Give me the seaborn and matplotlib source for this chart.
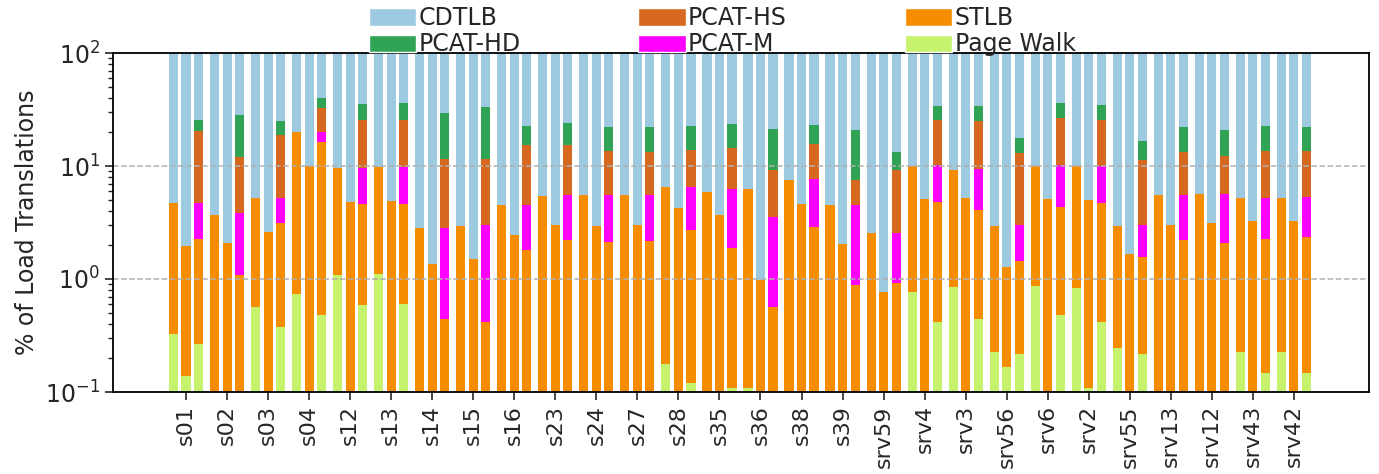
import numpy as np
import pandas as pd
import seaborn as sns
import matplotlib.pyplot as plt
from matplotlib.patches import Patch

workloads = ['s01', 's02', 's03', 's04', 's12', 's13', 's14', 's15', 's16', 's23',
             's24', 's27', 's28', 's35', 's36', 's38', 's39', 'srv59', 'srv4', 'srv3',
             'srv56', 'srv6', 'srv2', 'srv55', 'srv13', 'srv12', 'srv43', 'srv42']
configs = ['base', 'alt', 'pcat']
N = np.nan

# cumulative tops (% of load translations), CDTLB always fills up to 100
b1_stlb = [4.67, 3.72, 5.16, 19.9, 9.53, 9.8, 2.80, 2.97, 4.51, 5.42,
           5.53, 5.53, 6.51, 5.84, 6.21, 7.46, 4.48, 2.53, 10.1, 9.16,
           2.97, 10.1, 10.1, 2.97, 5.49, 5.61, 5.16, 5.16]
b1_pw = [0.327, N, 0.568, 0.741, 1.09, 1.11, N, N, N, N,
         N, N, 0.177, N, 0.109, N, N, N, 0.77, 0.855,
         0.226, 0.873, 0.838, 0.246, N, N, 0.226, 0.226]

b2_stlb = [1.94, 2.10, 2.58, 10.1, 4.76, 4.86, 1.37, 1.51, 2.47, 3.03,
           2.97, 3.03, 4.21, 3.72, 0.97, 4.57, 2.06, 0.77, 5.06, 5.16,
           1.29, 5.06, 4.96, 1.68, 3.03, 3.16, 3.23, 3.23]
b2_pw = [0.139, N, N, N, N, N, N, N, N, N,
         N, N, N, N, N, N, N, N, N, N,
         0.167, N, 0.109, N, N, N, N, N]

b3_hd = [25.4, 28.2, 24.9, 39.9, 35.3, 36.0, 29.3, 33.2, 22.5, 23.9,
         22.0, 22.0, 22.5, 23.4, 21.2, 22.9, 20.7, 13.2, 33.9, 33.9,
         17.6, 36.0, 34.5, 16.6, 22.0, 20.7, 22.5, 22.0]
b3_hs = [20.5, 12.0, 18.8, 32.5, 25.4, 25.4, 11.5, 11.5, 15.4, 15.4,
         13.6, 13.2, 13.8, 14.3, 9.16, 15.6, 7.46, 9.16, 25.4, 25.1,
         13.0, 26.5, 25.4, 11.2, 13.2, 12.2, 13.6, 13.6]
b3_m = [4.69, 3.83, 5.16, 19.9, 9.53, 9.8, 2.80, 3.03, 4.51, 5.53,
        5.53, 5.53, 6.51, 6.25, 3.57, 7.67, 4.51, 2.54, 10.3, 9.4,
        3.03, 10.3, 10.1, 2.99, 5.53, 5.61, 5.16, 5.31]
b3_stlb = [2.28, 1.09, 3.12, 16.2, 4.57, 4.57, 0.445, 0.418, 1.82, 2.23,
           2.14, 2.19, 2.69, 1.90, 0.56, 2.91, 0.89, 0.93, 4.76, 4.04,
           1.44, 4.30, 4.67, 1.55, 2.23, 2.10, 2.28, 2.33]
b3_pw = [0.267, N, 0.377, 0.482, 0.592, 0.604, N, N, N, N,
         N, N, 0.121, 0.109, N, N, N, N, 0.418, 0.445,
         0.217, 0.482, 0.418, 0.217, N, N, 0.148, 0.148]

layers = ['CDTLB', 'PCAT-HD', 'PCAT-HS', 'PCAT-M', 'STLB', 'Page Walk']
colors = {'CDTLB': '#9ecae1', 'PCAT-HD': '#31a354', 'PCAT-HS': '#d6691f',
          'PCAT-M': '#ff00ff', 'STLB': '#f68d00', 'Page Walk': '#c6f26e'}

n = len(workloads)
nan_list = [N] * n
rows = []
for cfg, cols in zip(configs, [
        ([100] * n, nan_list, nan_list, nan_list, b1_stlb, b1_pw),
        ([100] * n, nan_list, nan_list, nan_list, b2_stlb, b2_pw),
        ([100] * n, b3_hd, b3_hs, b3_m, b3_stlb, b3_pw)]):
    for i, w in enumerate(workloads):
        r = {'workload': w, 'config': cfg}
        for name, vals in zip(layers, cols):
            r[name] = vals[i]
        rows.append(r)
df = pd.DataFrame(rows)

sns.set_style('ticks')
plt.rcParams['font.family'] = ['DejaVu Sans']

fig = plt.figure(figsize=(13.79, 4.74), dpi=100)
ax = fig.add_axes([113 / 1379, 1 - 392 / 474, (1369 - 113) / 1379, (392 - 53) / 474])

# draw from the tallest layer to the shortest so each one overlays the previous
for name in layers:
    sns.barplot(data=df, x='workload', y=name, hue='config', order=workloads,
                hue_order=configs, palette=[colors[name]] * 3, dodge=True,
                width=0.915, gap=0.27, saturation=1, linewidth=0,
                errorbar=None, legend=False, ax=ax)

ax.set_yscale('log')
ax.set_ylim(0.1, 100)
ax.set_xlim(-1.78, 28.83)
ax.set_xlabel('')
ax.set_ylabel('% of Load Translations', fontsize=17)
ax.tick_params(axis='x', labelsize=16, rotation=90, length=6, width=1.2)
ax.tick_params(axis='y', which='major', labelsize=17, length=6, width=1.2)
ax.tick_params(axis='y', which='minor', length=3.5, width=1)
ax.set_axisbelow(False)
ax.yaxis.grid(True, which='major', linestyle='--', color='#b0b0b0', linewidth=1.1)
for s in ax.spines.values():
    s.set_linewidth(1.3)
    s.set_color('black')
    s.set_zorder(5)

handles = [Patch(facecolor=colors[name], label=name) for name in layers]
ax.legend(handles=handles, ncol=3, loc='lower center', bbox_to_anchor=(0.485, 0.955),
          frameon=False, fontsize=17, borderpad=0, labelspacing=0.1,
          columnspacing=5.0, handletextpad=0.1, handlelength=2.0, handleheight=0.75)

fig.savefig('out.png', dpi=100)
